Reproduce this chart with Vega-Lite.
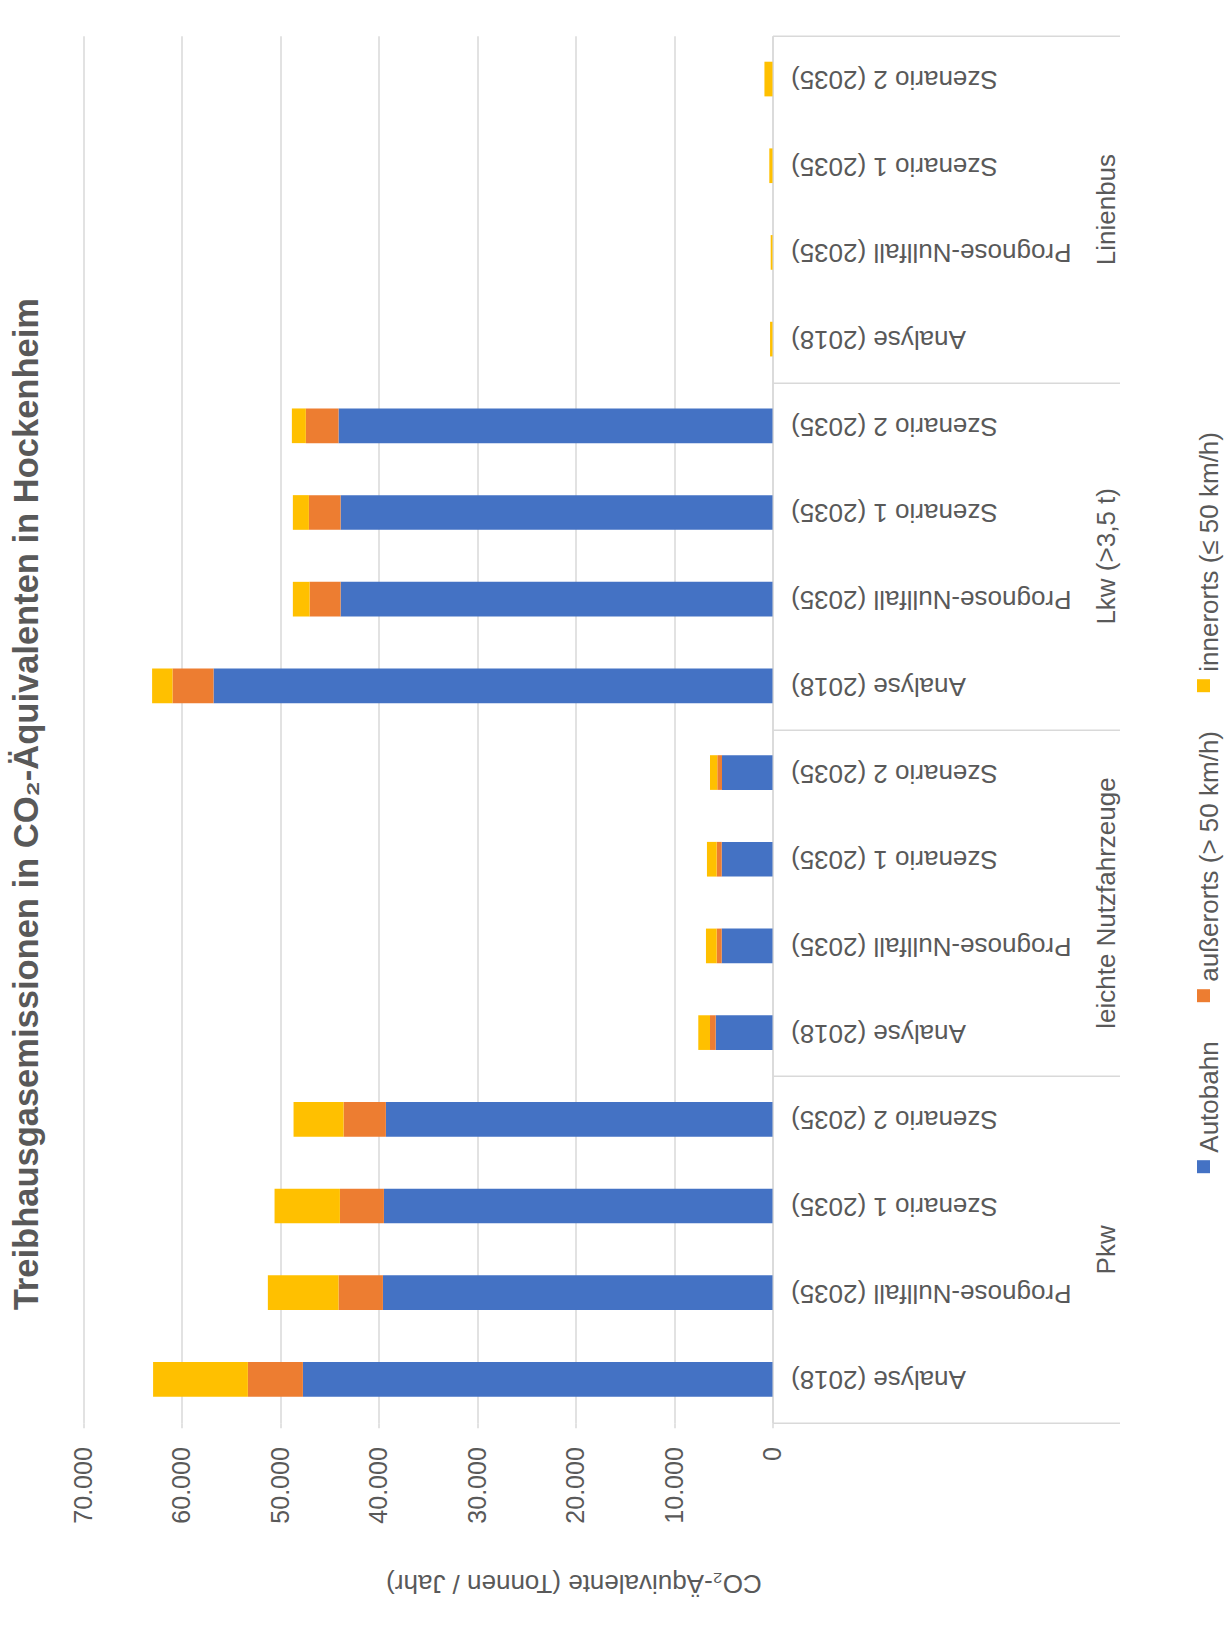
{
  "$schema": "https://vega.github.io/schema/vega-lite/v6.json",
  "width": 689,
  "height": 1387,
  "autosize": {"type": "none"},
  "padding": {"left": 83.5, "top": 35.7, "right": 459.5, "bottom": 204.3},
  "background": "white",
  "config": {
    "view": {"stroke": null},
    "font": "Liberation Sans"
  },
  "title": {
    "text": "Treibhausgasemissionen in CO₂-Äquivalenten in Hockenheim",
    "orient": "left",
    "anchor": "middle",
    "fontSize": 34.5,
    "font": "Liberation Sans",
    "fontWeight": "bold",
    "color": "#595959",
    "offset": 26,
    "dx": -75
  },
  "data": {
    "values": [
      {"Gruppe": "Linienbus", "Szenario": "Szenario 2 (2035)", "Autobahn": 0, "außerorts (> 50 km/h)": 0, "innerorts (≤ 50 km/h)": 820},
      {"Gruppe": "Linienbus", "Szenario": "Szenario 1 (2035)", "Autobahn": 0, "außerorts (> 50 km/h)": 0, "innerorts (≤ 50 km/h)": 325},
      {"Gruppe": "Linienbus", "Szenario": "Prognose-Nullfall (2035)", "Autobahn": 0, "außerorts (> 50 km/h)": 0, "innerorts (≤ 50 km/h)": 185},
      {"Gruppe": "Linienbus", "Szenario": "Analyse (2018)", "Autobahn": 0, "außerorts (> 50 km/h)": 0, "innerorts (≤ 50 km/h)": 250},
      {"Gruppe": "Lkw (>3,5 t)", "Szenario": "Szenario 2 (2035)", "Autobahn": 44090, "außerorts (> 50 km/h)": 3320, "innerorts (≤ 50 km/h)": 1420},
      {"Gruppe": "Lkw (>3,5 t)", "Szenario": "Szenario 1 (2035)", "Autobahn": 43880, "außerorts (> 50 km/h)": 3220, "innerorts (≤ 50 km/h)": 1630},
      {"Gruppe": "Lkw (>3,5 t)", "Szenario": "Prognose-Nullfall (2035)", "Autobahn": 43880, "außerorts (> 50 km/h)": 3150, "innerorts (≤ 50 km/h)": 1700},
      {"Gruppe": "Lkw (>3,5 t)", "Szenario": "Analyse (2018)", "Autobahn": 56790, "außerorts (> 50 km/h)": 4170, "innerorts (≤ 50 km/h)": 2070},
      {"Gruppe": "leichte Nutzfahrzeuge", "Szenario": "Szenario 2 (2035)", "Autobahn": 5130, "außerorts (> 50 km/h)": 480, "innerorts (≤ 50 km/h)": 740},
      {"Gruppe": "leichte Nutzfahrzeuge", "Szenario": "Szenario 1 (2035)", "Autobahn": 5160, "außerorts (> 50 km/h)": 510, "innerorts (≤ 50 km/h)": 990},
      {"Gruppe": "leichte Nutzfahrzeuge", "Szenario": "Prognose-Nullfall (2035)", "Autobahn": 5160, "außerorts (> 50 km/h)": 510, "innerorts (≤ 50 km/h)": 1090},
      {"Gruppe": "leichte Nutzfahrzeuge", "Szenario": "Analyse (2018)", "Autobahn": 5770, "außerorts (> 50 km/h)": 580, "innerorts (≤ 50 km/h)": 1190},
      {"Gruppe": "Pkw", "Szenario": "Szenario 2 (2035)", "Autobahn": 39280, "außerorts (> 50 km/h)": 4300, "innerorts (≤ 50 km/h)": 5080},
      {"Gruppe": "Pkw", "Szenario": "Szenario 1 (2035)", "Autobahn": 39480, "außerorts (> 50 km/h)": 4470, "innerorts (≤ 50 km/h)": 6640},
      {"Gruppe": "Pkw", "Szenario": "Prognose-Nullfall (2035)", "Autobahn": 39580, "außerorts (> 50 km/h)": 4510, "innerorts (≤ 50 km/h)": 7180},
      {"Gruppe": "Pkw", "Szenario": "Analyse (2018)", "Autobahn": 47710, "außerorts (> 50 km/h)": 5590, "innerorts (≤ 50 km/h)": 9630}
    ]
  },
  "transform": [
    {"calculate": "datum.Gruppe + '|' + datum.Szenario", "as": "key"},
    {"fold": ["Autobahn", "außerorts (> 50 km/h)", "innerorts (≤ 50 km/h)"], "as": ["Kategorie", "Wert"]}
  ],
  "layer": [
    {
      "mark": {"type": "bar"},
      "encoding": {
        "y": {
          "field": "key",
          "type": "nominal",
          "sort": null,
          "scale": {"paddingInner": 0.6, "paddingOuter": 0.3},
          "axis": {
            "orient": "right",
            "title": null,
            "grid": false,
            "ticks": false,
            "tickSize": 0,
            "domain": true,
            "domainColor": "#D9D9D9",
            "domainWidth": 1.5,
            "labelAngle": 180,
            "labelAlign": "right",
            "labelBaseline": "middle",
            "labelPadding": 18,
            "labelFontSize": 26,
            "labelColor": "#595959",
            "labelLimit": 0,
            "labelExpr": "split(datum.value, '|')[1]"
          }
        },
        "x": {
          "field": "Wert",
          "type": "quantitative",
          "stack": "zero",
          "scale": {"domain": [0, 70000], "reverse": true, "nice": false},
          "axis": {
            "orient": "bottom",
            "values": [0, 10000, 20000, 30000, 40000, 50000, 60000, 70000],
            "grid": true,
            "gridColor": "#D9D9D9",
            "gridWidth": 1.5,
            "domain": false,
            "ticks": true,
            "tickColor": "#D9D9D9",
            "tickWidth": 1.5,
            "tickSize": 5,
            "labelAngle": 270,
            "labelAlign": "right",
            "labelBaseline": "middle",
            "labelPadding": 19,
            "labelFontSize": 25,
            "labelColor": "#595959",
            "labelFlush": false,
            "labelOverlap": false,
            "labelExpr": "replace(format(datum.value, ','), ',', '.')",
            "title": "CO₂-Äquivalente (Tonnen / Jahr)",
            "titleAngle": 180,
            "titleFontSize": 26,
            "titleFontWeight": "normal",
            "titleColor": "#595959",
            "titleX": 490,
            "titleY": 160,
            "titleAlign": "center",
            "titleBaseline": "middle"
          }
        },
        "color": {
          "field": "Kategorie",
          "type": "nominal",
          "scale": {
            "domain": ["innerorts (≤ 50 km/h)", "außerorts (> 50 km/h)", "Autobahn"],
            "range": ["#FFC000", "#ED7D31", "#4472C4"]
          },
          "legend": {
            "orient": "none",
            "legendX": 1107,
            "legendY": 637,
            "direction": "vertical",
            "title": null,
            "symbolType": "square",
            "symbolSize": 169,
            "symbolStrokeWidth": 0,
            "labelFontSize": 26,
            "labelColor": "#595959",
            "labelOffset": 0,
            "labelLimit": 0,
            "rowPadding": 38,
            "padding": 0,
            "encoding": {
              "labels": {
                "angle": {"value": -90},
                "align": {"value": "left"},
                "baseline": {"value": "middle"},
                "dx": {"value": 14},
                "dy": {"value": -6.5}
              }
            }
          }
        },
        "order": {"field": "Kategorie", "sort": "ascending"}
      }
    },
    {
      "mark": {"type": "point", "opacity": 0},
      "encoding": {
        "y": {
          "field": "Gruppe",
          "type": "nominal",
          "sort": ["Linienbus", "Lkw (>3,5 t)", "leichte Nutzfahrzeuge", "Pkw"],
          "scale": {"paddingInner": 0, "paddingOuter": 0},
          "axis": {
            "orient": "right",
            "title": null,
            "grid": false,
            "domain": false,
            "ticks": true,
            "tickBand": "extent",
            "tickSize": 347,
            "tickColor": "#D9D9D9",
            "tickWidth": 1.5,
            "labelAngle": 270,
            "labelAlign": "center",
            "labelBaseline": "top",
            "labelPadding": -26,
            "labelFontSize": 26,
            "labelColor": "#595959",
            "labelLimit": 0
          }
        }
      }
    }
  ],
  "resolve": {"scale": {"y": "independent"}, "axis": {"y": "independent"}}
}
